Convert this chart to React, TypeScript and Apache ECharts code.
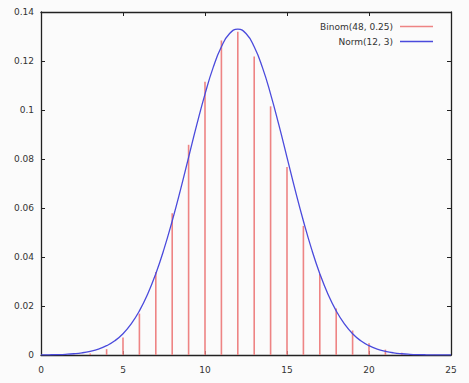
import React, { useEffect, useRef } from "react";
import * as echarts from "echarts";

const binomK = [0,1,2,3,4,5,6,7,8,9,10,11,12,13,14,15,16,17,18,19,20,21,22,23,24,25];
const binomP = [0.000001,0.000016,0.00013,0.00064,0.0024,0.0071,0.0169,0.0339,0.0579,0.0858,0.1115,0.1284,0.1319,0.1218,0.1015,0.0767,0.0527,0.0331,0.0190,0.0100,0.0048,0.0022,0.0009,0.0003,0.0001,0.00004];

const normX = [0,0.5,1,1.5,2,2.5,3,3.5,4,4.5,5,5.5,6,6.5,7,7.5,8,8.5,9,9.5,10,10.5,11,11.5,12,12.5,13,13.5,14,14.5,15,15.5,16,16.5,17,17.5,18,18.5,19,19.5,20,20.5,21,21.5,22,22.5,23,23.5,24,24.5,25];
const normY = [0.000045,0.000086,0.00016,0.00029,0.00051,0.00088,0.0015,0.0024,0.0038,0.0058,0.0087,0.0127,0.0180,0.0248,0.0332,0.0432,0.0547,0.0673,0.0807,0.0940,0.1065,0.1174,0.1258,0.1312,0.1330,0.1312,0.1258,0.1174,0.1065,0.0940,0.0807,0.0673,0.0547,0.0432,0.0332,0.0248,0.0180,0.0127,0.0087,0.0058,0.0038,0.0024,0.0015,0.00088,0.00051,0.00029,0.00016,0.000086,0.000045,0.000023,0.000011];

const xTicks = [0, 5, 10, 15, 20, 25];
const yTicks = [0, 0.02, 0.04, 0.06, 0.08, 0.1, 0.12, 0.14];

const FONT = "DejaVu Sans";

export default function App() {
  const ref = useRef<HTMLDivElement>(null);
  useEffect(() => {
    if (!ref.current) return;
    const chart = echarts.init(ref.current, null, { renderer: "svg" });
    const axisLine = { show: true, onZero: false, lineStyle: { color: "#222", width: 1.3 } };
    const axisTick = { show: true, inside: true, length: 4, lineStyle: { color: "#222", width: 1 } };
    const label = { color: "#333", fontFamily: FONT, fontSize: 9 };
    chart.setOption({
      animation: false,
      backgroundColor: "#fbfbfb",
      grid: { left: 41, right: 18, top: 12, bottom: 28, containLabel: false },
      legend: {
        orient: "vertical",
        right: 31,
        top: 17,
        align: "right",
        icon: "rect",
        itemWidth: 33,
        itemHeight: 1.5,
        itemGap: 6,
        textStyle: { color: "#333", fontFamily: FONT, fontSize: 9, padding: [0, 2, 0, 0] },
        data: ["Binom(48, 0.25)", "Norm(12, 3)"],
      },
      xAxis: [
        {
          type: "value",
          min: xTicks[0],
          max: xTicks[xTicks.length - 1],
          interval: 5,
          position: "bottom",
          axisLine,
          axisTick,
          splitLine: { show: false },
          axisLabel: { ...label, margin: 10 },
        },
        {
          type: "value",
          min: xTicks[0],
          max: xTicks[xTicks.length - 1],
          interval: 5,
          position: "top",
          axisLine,
          axisTick,
          splitLine: { show: false },
          axisLabel: { show: false },
        },
      ],
      yAxis: [
        {
          type: "value",
          min: yTicks[0],
          max: yTicks[yTicks.length - 1],
          interval: 0.02,
          position: "left",
          axisLine,
          axisTick,
          splitLine: { show: false },
          axisLabel: { ...label, margin: 7 },
        },
        {
          type: "value",
          min: yTicks[0],
          max: yTicks[yTicks.length - 1],
          interval: 0.02,
          position: "right",
          axisLine,
          axisTick,
          splitLine: { show: false },
          axisLabel: { show: false },
        },
      ],
      series: [
        {
          name: "Binom(48, 0.25)",
          type: "bar",
          barWidth: 1.6,
          itemStyle: { color: "#ee8484" },
          data: binomK.map((k, i) => [k, binomP[i]]),
          z: 2,
        },
        {
          name: "Norm(12, 3)",
          type: "line",
          smooth: true,
          symbol: "none",
          showSymbol: false,
          lineStyle: { color: "#4a4adc", width: 1.3 },
          itemStyle: { color: "#4a4adc" },
          data: normX.map((x, i) => [x, normY[i]]),
          z: 3,
        },
      ],
    });
    return () => chart.dispose();
  }, []);
  return (
    <div
      ref={ref}
      style={{ position: "fixed", left: 0, top: 0, width: 469, height: 383 }}
    />
  );
}
